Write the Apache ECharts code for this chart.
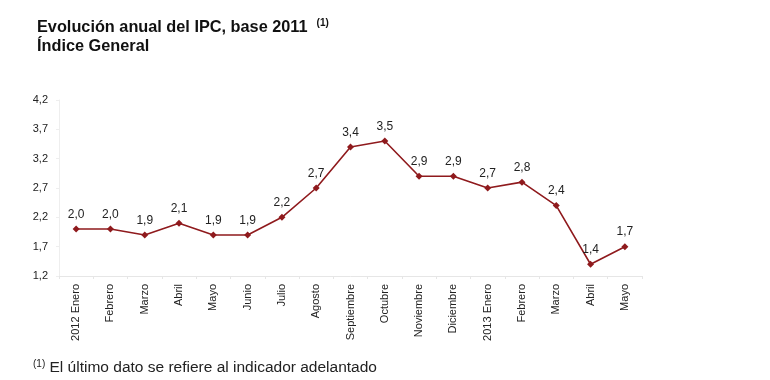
<!DOCTYPE html>
<html><head><meta charset="utf-8">
<script src="https://cdn.jsdelivr.net/npm/echarts@6/dist/echarts.min.js"></script>
<style>html,body{margin:0;padding:0;background:#fff}#c{width:770px;height:380px}</style>
</head><body><div id="c"></div>
<script>
var categories = ['2012 Enero','Febrero','Marzo','Abril','Mayo','Junio','Julio','Agosto','Septiembre','Octubre','Noviembre','Diciembre','2013 Enero','Febrero','Marzo','Abril','Mayo'];
var ipcValues = [2.0,2.0,1.9,2.1,1.9,1.9,2.2,2.7,3.4,3.5,2.9,2.9,2.7,2.8,2.4,1.4,1.7];
var yMin = 1.2, yMax = 4.2, yStep = 0.5;
var fmt = function(v){ return Number(v).toFixed(1).replace('.', ','); };
var font = 'Liberation Sans, Arial, sans-serif';
var chart = echarts.init(document.getElementById('c'));
chart.setOption({
  animation: false,
  textStyle: { fontFamily: font },
  title: [{
    left: 32, top: 13,
    text: '{t|Evolución anual del IPC, base 2011  }{s|(1)}\n{t|Índice General}',
    textStyle: {
      rich: {
        t: { fontFamily: font, fontWeight: 'bold', fontSize: 16.3, color: '#111', lineHeight: 19 },
        s: { fontFamily: font, fontWeight: 'bold', fontSize: 10, color: '#111', padding: [0,0,9,0] }
      }
    }
  }, {
    left: 28, top: 354,
    text: '{s|(1)}{t| El último dato se refiere al indicador adelantado}',
    textStyle: {
      fontWeight: 'normal',
      rich: {
        t: { fontFamily: font, fontWeight: 'normal', fontSize: 15.5, color: '#222' },
        s: { fontFamily: font, fontWeight: 'normal', fontSize: 10, color: '#222', padding: [0,0,8,0] }
      }
    }
  }],
  grid: { left: 59, right: 128, top: 100, bottom: 104 },
  xAxis: {
    type: 'category', data: categories, boundaryGap: true,
    axisLine: { lineStyle: { color: '#e6e6e6' } },
    axisTick: { show: true, lineStyle: { color: '#e6e6e6' }, length: 3 },
    axisLabel: { rotate: 90, interval: 0, color: '#222', fontSize: 11, margin: 8, fontFamily: font }
  },
  yAxis: {
    type: 'value', min: yMin, max: yMax, interval: yStep,
    splitLine: { show: false },
    axisLine: { show: true, lineStyle: { color: '#eeeeee' } },
    axisTick: { show: true, lineStyle: { color: '#eeeeee' }, length: 3 },
    axisLabel: { color: '#222', fontSize: 11, margin: 11, formatter: fmt, fontFamily: font }
  },
  series: [{
    type: 'line', data: ipcValues,
    symbol: 'diamond', symbolSize: 7,
    lineStyle: { color: '#8f1a1d', width: 1.6 },
    itemStyle: { color: '#8f1a1d' },
    label: { show: true, position: 'top', distance: 5, color: '#222', fontSize: 12, fontFamily: font,
      formatter: function(p){ return fmt(p.value); } }
  }]
});
</script></body></html>
